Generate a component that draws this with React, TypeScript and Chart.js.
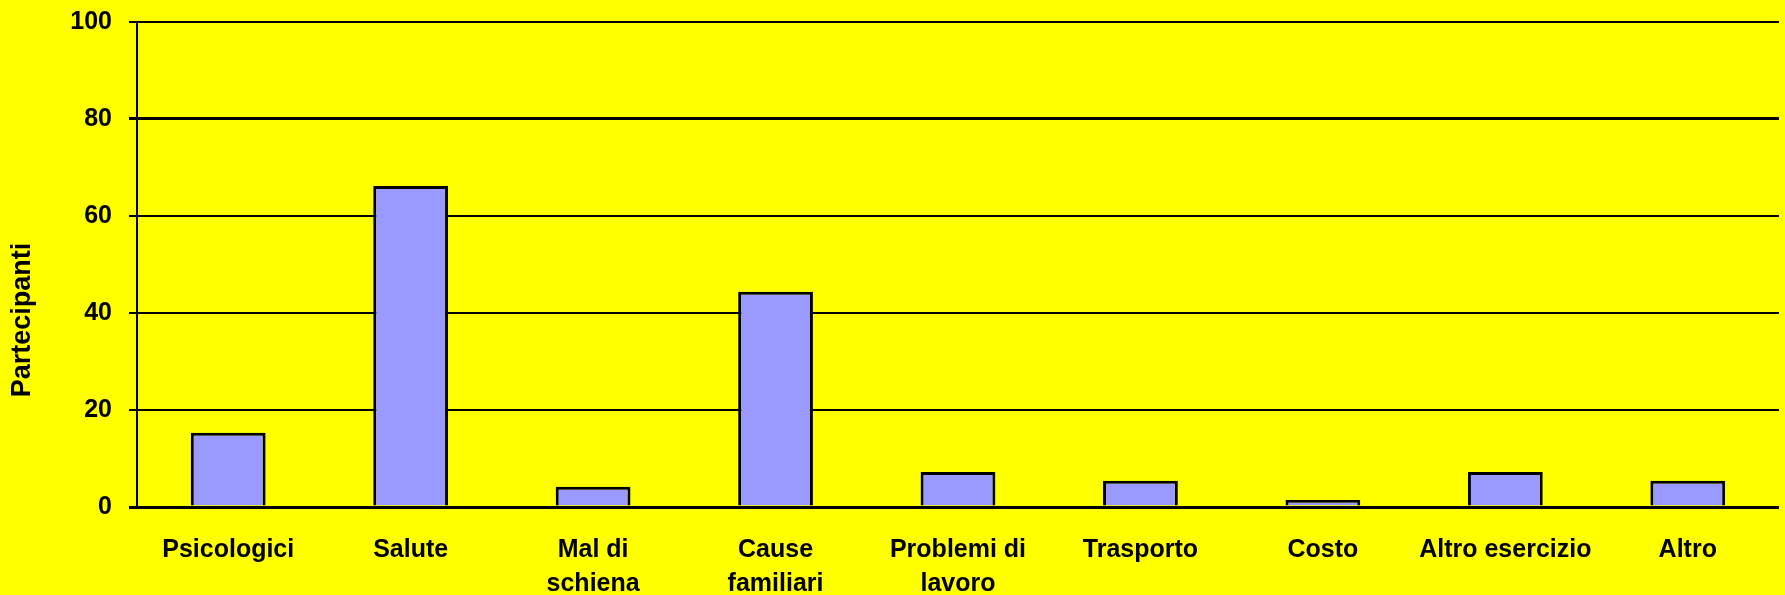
import React, { useEffect, useRef } from "react";
import { Chart, registerables } from "chart.js";

Chart.register(...registerables);

const categories: (string | string[])[] = [
  "Psicologici",
  "Salute",
  ["Mal di", "schiena"],
  ["Cause", "familiari"],
  ["Problemi di", "lavoro"],
  "Trasporto",
  "Costo",
  "Altro esercizio",
  "Altro",
];
const partecipanti = [15.3, 66.2, 4.2, 44.4, 7.2, 5.4, 1.45, 7.2, 5.4];
const yTicks = [0, 20, 40, 60, 80, 100];
const yTitle = "Partecipanti";

const FONT = "'Liberation Sans', Arial, sans-serif";

const yTitlePlugin = {
  id: "yTitlePlugin",
  afterDraw(chart: any) {
    const ctx = chart.ctx;
    ctx.save();
    ctx.translate(23, 320);
    ctx.rotate(-Math.PI / 2);
    ctx.font = `bold 27px ${FONT}`;
    ctx.fillStyle = "#000000";
    ctx.textAlign = "center";
    ctx.textBaseline = "middle";
    ctx.fillText(yTitle, 0, 0);
    ctx.restore();
  },
};

export default function App() {
  const ref = useRef<HTMLCanvasElement | null>(null);
  useEffect(() => {
    if (!ref.current) return;
    const chart = new Chart(ref.current, {
      type: "bar",
      data: {
        labels: categories,
        datasets: [
          {
            data: partecipanti,
            backgroundColor: "#9999FF",
            borderColor: "#000000",
            borderWidth: { top: 3, left: 3, right: 3, bottom: 0 },
            borderSkipped: false,
            categoryPercentage: 1,
            barPercentage: 0.41,
          },
        ],
      },
      options: {
        responsive: false,
        animation: false,
        layout: { padding: { left: 0, right: 6, top: 22, bottom: 0 } },
        plugins: {
          legend: { display: false },
          tooltip: { enabled: false },
          title: { display: false },
        },
        scales: {
          x: {
            grid: { display: false, drawTicks: false },
            border: { display: false },
            ticks: {
              color: "#000000",
              font: { family: FONT, size: 25, weight: "bold", lineHeight: 1.36 },
              padding: 26,
              maxRotation: 0,
              autoSkip: false,
            },
            afterFit(scale: any) {
              scale.height = 88;
              scale.paddingLeft = 0;
              scale.paddingRight = 0;
            },
          },
          y: {
            min: 0,
            max: 100,
            afterBuildTicks(scale: any) {
              scale.ticks = yTicks.map((v) => ({ value: v }));
            },
            grid: {
              color: "#000000",
              lineWidth: (c: any) =>
                c.tick && (c.tick.value === 80 || c.tick.value === 0) ? 3 : 2,
              drawTicks: true,
              tickLength: 8,
            },
            border: { display: true, color: "#000000", width: 2 },
            ticks: {
              color: "#000000",
              font: { family: FONT, size: 25, weight: "bold" },
              padding: 17,
            },
            afterFit(scale: any) {
              scale.width = 137;
              scale.paddingTop = 0;
              scale.paddingBottom = 0;
            },
          },
        },
      },
      plugins: [yTitlePlugin],
    });
    return () => chart.destroy();
  }, []);
  return (
    <div
      style={{
        position: "fixed",
        left: 0,
        top: 0,
        width: 1785,
        height: 595,
        background: "#FFFF00",
      }}
    >
      <canvas ref={ref} width={1785} height={595} style={{ display: "block" }} />
    </div>
  );
}
